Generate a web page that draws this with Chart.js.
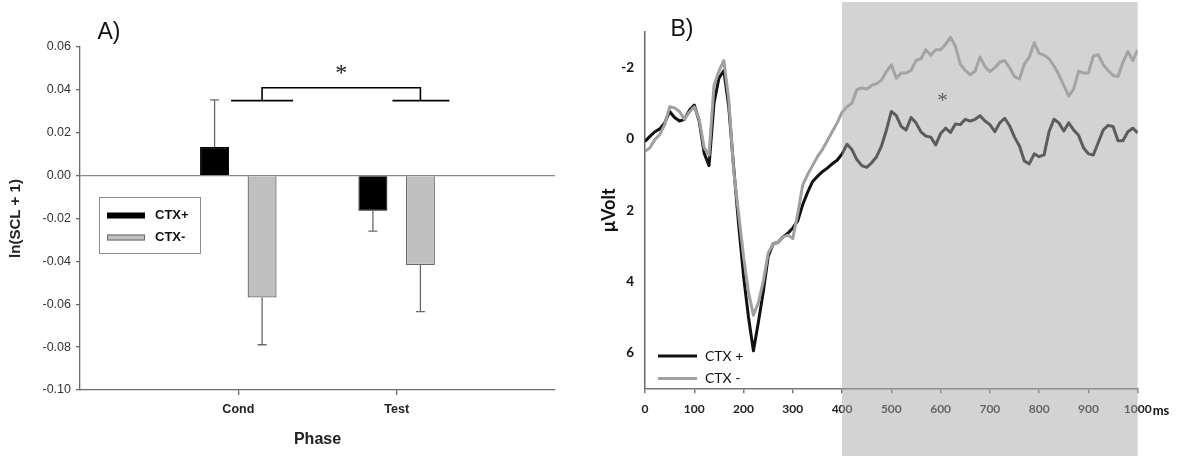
<!DOCTYPE html>
<html>
<head>
<meta charset="utf-8">
<title>SCL and ERP by context</title>
<script src="https://cdn.jsdelivr.net/npm/chart.js@4.4.1/dist/chart.umd.min.js"></script>
<style>
  html, body { margin: 0; padding: 0; background: #fff; }
  body { width: 1180px; height: 456px; position: relative; overflow: hidden; }
  .panel { position: absolute; top: 0; }
  #panel-a { left: 0; }
  #panel-b { left: 590px; }
</style>
</head>
<body>
<div class="panel" id="panel-a"><canvas id="chart-a" width="580" height="456"></canvas></div>
<div class="panel" id="panel-b"><canvas id="chart-b" width="590" height="456"></canvas></div>
<script>
// Panel A: skin conductance per phase
const phases = ['Cond', 'Test'];
const sclCtxPlus = [0.0133, -0.0164];
const sclCtxMinus = [-0.0569, -0.0417];
const sclCtxPlusErr = [0.022, 0.0095];
const sclCtxMinusErr = [0.022, 0.0217];
const sclTicks = [-0.10, -0.08, -0.06, -0.04, -0.02, 0, 0.02, 0.04, 0.06];
const bracketLevels = [0.035, 0.041];
const starLevel = 0.050;

// Panel B: grand average ERP, 10 ms steps
const timeMs = [
  0, 10, 20, 30, 40, 50, 60, 70, 80, 90,
  100, 110, 120, 130, 140, 150, 160, 170, 180, 190,
  200, 210, 220, 230, 240, 250, 260, 270, 280, 290,
  300, 310, 320, 330, 340, 350, 360, 370, 380, 390,
  400, 410, 420, 430, 440, 450, 460, 470, 480, 490,
  500, 510, 520, 530, 540, 550, 560, 570, 580, 590,
  600, 610, 620, 630, 640, 650, 660, 670, 680, 690,
  700, 710, 720, 730, 740, 750, 760, 770, 780, 790,
  800, 810, 820, 830, 840, 850, 860, 870, 880, 890,
  900, 910, 920, 930, 940, 950, 960, 970, 980, 990,
  1000,
];
const erpCtxPlus = [
  0.07, -0.07, -0.2, -0.28, -0.45, -0.77, -0.6, -0.5, -0.55, -0.8,
  -0.95, -0.5, 0.4, 0.75, -1.0, -1.7, -1.92, -0.9, 0.8, 2.4,
  3.85, 5.0, 5.95, 5.15, 4.3, 3.3, 2.95, 2.9, 2.75, 2.65,
  2.5, 2.3, 1.85, 1.5, 1.2, 1.05, 0.92, 0.82, 0.7, 0.6,
  0.42, 0.15, 0.3, 0.58, 0.75, 0.8, 0.67, 0.5, 0.2, -0.25,
  -0.77, -0.65, -0.35, -0.25, -0.6, -0.45, -0.2, -0.08, -0.05, 0.17,
  -0.15, -0.3, -0.18, -0.42, -0.4, -0.55, -0.5, -0.55, -0.65, -0.5,
  -0.4, -0.2, -0.45, -0.58, -0.37, -0.05, 0.2, 0.62, 0.7, 0.42,
  0.5, 0.45, -0.2, -0.55, -0.45, -0.22, -0.45, -0.25, -0.1, 0.25,
  0.42, 0.45, 0.1, -0.25, -0.38, -0.35, 0.05, 0.05, -0.2, -0.3,
  -0.17,
];
const erpCtxMinus = [
  0.35, 0.25, 0.02, -0.12, -0.4, -0.9, -0.87, -0.77, -0.55, -0.75,
  -0.9, -0.55, 0.25, 0.45, -1.5, -1.9, -2.2, -1.1, 0.9, 2.1,
  3.3, 4.3, 4.95, 4.6, 4.0, 3.2, 2.95, 2.9, 2.75, 2.7,
  2.8, 2.1, 1.3, 1.0, 0.75, 0.5, 0.3, 0.05, -0.2, -0.45,
  -0.75, -0.9, -1.0, -1.38, -1.43, -1.4, -1.5, -1.55, -1.65, -1.89,
  -2.08, -1.7, -1.85, -1.85, -1.92, -2.2, -2.25, -2.5, -2.35, -2.5,
  -2.5, -2.65, -2.85, -2.6, -2.1, -1.92, -1.8, -1.9, -2.3, -2.03,
  -1.89, -2.0, -2.15, -2.2, -2.0, -1.75, -1.68, -2.1, -2.3, -2.7,
  -2.4, -2.35, -2.25, -2.05, -1.8, -1.5, -1.2, -1.4, -1.9, -1.85,
  -1.85, -2.33, -2.36, -2.08, -1.92, -1.78, -1.75, -2.15, -2.45, -2.2,
  -2.5,
];
const erpTimeTicks = [0, 100, 200, 300, 400, 500, 600, 700, 800, 900, 1000];
const erpUvTicks = [-2, 0, 2, 4, 6];
const shadeWindow = [400, 1000];
const erpStar = { t: 604, uv: -1.16 };

const ARIAL = '"Liberation Sans", Arial, sans-serif';
const CALI = 'Lato, "Open Sans", sans-serif';

function panelLetter(text, x, y) {
  return {
    id: 'letter',
    afterDraw(chart) {
      const { ctx } = chart;
      ctx.save();
      ctx.font = '23px ' + ARIAL;
      ctx.fillStyle = '#111';
      ctx.textAlign = 'center';
      ctx.textBaseline = 'middle';
      ctx.fillText(text, x, y);
      ctx.restore();
    },
  };
}

// one-sided SEM whiskers, pointing away from zero
const errorBars = {
  id: 'errorBars',
  afterDatasetsDraw(chart) {
    const { ctx, scales: { y } } = chart;
    ctx.save();
    ctx.strokeStyle = '#6a6a6a';
    ctx.lineWidth = 1.3;
    chart.data.datasets.forEach((ds, di) => {
      chart.getDatasetMeta(di).data.forEach((bar, i) => {
        const v = ds.data[i];
        const e = ds.errors[i];
        if (v == null || e == null) return;
        const end = y.getPixelForValue(v + Math.sign(v) * e);
        ctx.beginPath();
        ctx.moveTo(bar.x, bar.y);
        ctx.lineTo(bar.x, end);
        ctx.moveTo(bar.x - 4.5, end);
        ctx.lineTo(bar.x + 4.5, end);
        ctx.stroke();
      });
    });
    ctx.restore();
  },
};

// significance bracket between the CTX- bars of both phases
const sigBracket = {
  id: 'sigBracket',
  afterDatasetsDraw(chart) {
    const { ctx, scales: { y } } = chart;
    const bars = chart.getDatasetMeta(1).data;
    const a = bars[1].x;
    const b = bars[2].x;
    const base = y.getPixelForValue(bracketLevels[0]);
    const top = y.getPixelForValue(bracketLevels[1]);
    ctx.save();
    ctx.strokeStyle = '#000';
    ctx.lineWidth = 1.6;
    ctx.beginPath();
    ctx.moveTo(a - 31, base); ctx.lineTo(a + 31, base);
    ctx.moveTo(b - 28, base); ctx.lineTo(b + 29, base);
    ctx.moveTo(a, base); ctx.lineTo(a, top); ctx.lineTo(b, top); ctx.lineTo(b, base);
    ctx.stroke();
    ctx.fillStyle = '#111';
    ctx.font = '24px "Liberation Serif", "DejaVu Serif", serif';
    ctx.textAlign = 'center';
    ctx.textBaseline = 'middle';
    ctx.fillText('*', (a + b) / 2, y.getPixelForValue(starLevel) + 5);
    ctx.restore();
  },
};

const legendA = {
  id: 'legendA',
  afterDraw(chart) {
    const { ctx } = chart;
    ctx.save();
    ctx.strokeStyle = '#8c8c8c';
    ctx.lineWidth = 1;
    ctx.strokeRect(99.5, 197.5, 101, 56);
    ctx.font = 'bold 13px ' + ARIAL;
    ctx.textBaseline = 'middle';
    chart.data.datasets.forEach((ds, i) => {
      const cy = 215.5 + i * 22;
      ctx.fillStyle = ds.backgroundColor;
      ctx.fillRect(107, cy - 3, 38, 6);
      if (i === 1) {
        ctx.strokeStyle = ds.borderColor;
        ctx.strokeRect(107.5, cy - 2.5, 37, 5);
      }
      ctx.fillStyle = '#111';
      ctx.fillText(ds.label, 155, cy);
    });
    ctx.restore();
  },
};

const padded = (arr) => [null, ...arr, null];

new Chart(document.getElementById('chart-a'), {
  type: 'bar',
  data: {
    labels: ['', ...phases, ''],
    datasets: [
      {
        label: 'CTX+',
        data: padded(sclCtxPlus),
        errors: padded(sclCtxPlusErr),
        backgroundColor: '#000',
        borderColor: '#000',
        borderWidth: 1,
      },
      {
        label: 'CTX-',
        data: padded(sclCtxMinus),
        errors: padded(sclCtxMinusErr),
        backgroundColor: '#c0c0c0',
        borderColor: '#6a6a6a',
        borderWidth: 1.3,
      },
    ],
  },
  options: {
    responsive: false,
    animation: false,
    layout: { padding: { left: 0, top: 47, right: 25, bottom: 0 } },
    datasets: { bar: { categoryPercentage: 0.6, barPercentage: 0.61 } },
    plugins: { legend: { display: false }, tooltip: { enabled: false } },
    scales: {
      x: {
        offset: false,
        afterFit: (s) => { s.height = 66; },
        border: { color: '#6a6a6a', width: 1.3 },
        grid: {
          offset: false,
          drawOnChartArea: false,
          tickLength: 5,
          lineWidth: 1.3,
          tickColor: (c) => (c.tick && c.tick.label ? '#6a6a6a' : 'rgba(0,0,0,0)'),
        },
        ticks: {
          color: '#222',
          font: { family: ARIAL, size: 12.5, weight: 'bold' },
          padding: 7,
          autoSkip: false,
          maxRotation: 0,
        },
        title: {
          display: true,
          text: 'Phase',
          color: '#222',
          font: { family: ARIAL, size: 16, weight: 'bold' },
          padding: { top: 0, bottom: 7 },
        },
      },
      y: {
        min: -0.10,
        max: 0.06,
        afterBuildTicks: (s) => { s.ticks = sclTicks.map((v) => ({ value: v })); },
        afterFit: (s) => { s.width = 80; },
        border: { color: '#6a6a6a', width: 1.3 },
        grid: {
          color: (c) => (c.tick && c.tick.value === 0 ? '#8a8a8a' : 'rgba(0,0,0,0)'),
          lineWidth: 1.3,
          tickColor: '#6a6a6a',
          tickLength: 4,
        },
        ticks: {
          color: '#333',
          font: { family: ARIAL, size: 12.5 },
          padding: 5,
          callback: (v) => Number(v).toFixed(2),
        },
        title: {
          display: true,
          text: 'ln(SCL + 1)',
          color: '#222',
          font: { family: ARIAL, size: 15, weight: 'bold' },
          padding: { top: 7, bottom: 0 },
        },
      },
    },
  },
  plugins: [errorBars, sigBracket, legendA, panelLetter('A)', 109, 33)],
});

// Panel B helpers
const erpStarMark = {
  id: 'erpStarMark',
  afterDatasetsDraw(chart) {
    const { ctx, scales: { x, y } } = chart;
    ctx.save();
    ctx.fillStyle = '#111';
    ctx.font = '21px "Liberation Serif", "DejaVu Serif", serif';
    ctx.textAlign = 'center';
    ctx.textBaseline = 'middle';
    ctx.fillText('*', x.getPixelForValue(erpStar.t), y.getPixelForValue(erpStar.uv) + 4);
    ctx.restore();
  },
};

const shade = {
  id: 'shade',
  afterDraw(chart) {
    const { ctx, scales: { x } } = chart;
    const x0 = x.getPixelForValue(shadeWindow[0]);
    const x1 = x.getPixelForValue(shadeWindow[1]);
    ctx.save();
    ctx.fillStyle = 'rgba(168,168,168,0.5)';
    ctx.fillRect(x0, 2, x1 - x0, chart.height - 2);
    ctx.fillStyle = '#111';
    ctx.font = 'bold 13px ' + CALI;
    ctx.textBaseline = 'middle';
    ctx.fillText('ms', x1 + 15, 411);
    ctx.restore();
  },
};

const legendB = {
  id: 'legendB',
  afterDraw(chart) {
    const { ctx } = chart;
    ctx.save();
    ctx.font = '14px ' + CALI;
    ctx.textBaseline = 'middle';
    chart.data.datasets.forEach((ds, i) => {
      const cy = 356 + i * 22.5;
      ctx.strokeStyle = ds.borderColor;
      ctx.lineWidth = 3;
      ctx.beginPath();
      ctx.moveTo(68, cy);
      ctx.lineTo(107, cy);
      ctx.stroke();
      ctx.fillStyle = '#111';
      ctx.fillText(ds.label, 115, cy);
    });
    ctx.restore();
  },
};

const toPoints = (vals) => timeMs.map((t, i) => ({ x: t, y: vals[i] }));

new Chart(document.getElementById('chart-b'), {
  type: 'line',
  data: {
    datasets: [
      {
        label: 'CTX +',
        data: toPoints(erpCtxPlus),
        borderColor: '#111',
        borderWidth: 3,
        pointRadius: 0,
        tension: 0,
        borderJoinStyle: 'round',
        order: 1,
      },
      {
        label: 'CTX -',
        data: toPoints(erpCtxMinus),
        borderColor: '#a0a0a0',
        borderWidth: 3,
        pointRadius: 0,
        tension: 0,
        borderJoinStyle: 'round',
        order: 0,
      },
    ],
  },
  options: {
    responsive: false,
    animation: false,
    layout: { padding: { left: 0, top: 32, right: 42.3, bottom: 0 } },
    plugins: { legend: { display: false }, tooltip: { enabled: false } },
    scales: {
      x: {
        type: 'linear',
        min: 0,
        max: 1000,
        afterBuildTicks: (s) => { s.ticks = erpTimeTicks.map((v) => ({ value: v })); },
        afterFit: (s) => { s.height = 67.7; },
        border: { color: '#777', width: 1.5 },
        grid: { drawOnChartArea: false, tickLength: 5, tickColor: '#777', lineWidth: 1.5 },
        ticks: {
          color: '#222',
          font: { family: CALI, size: 12, weight: 'bold' },
          padding: 9,
          maxRotation: 0,
          autoSkip: false,
          callback: (v) => String(v),
        },
      },
      y: {
        reverse: true,
        min: -3,
        max: 7,
        afterBuildTicks: (s) => { s.ticks = erpUvTicks.map((v) => ({ value: v })); },
        afterFit: (s) => { s.width = 55; },
        border: { color: '#666', width: 1.5 },
        grid: { display: false, drawTicks: false },
        ticks: {
          color: '#111',
          font: { family: CALI, size: 13.5, weight: 'bold' },
          padding: 11,
        },
        title: {
          display: true,
          text: 'μVolt',
          color: '#111',
          font: { family: CALI, size: 18, weight: 'bold' },
          padding: { top: 8, bottom: 0 },
        },
      },
    },
  },
  plugins: [erpStarMark, shade, legendB, panelLetter('B)', 92, 30)],
});
</script>
</body>
</html>
